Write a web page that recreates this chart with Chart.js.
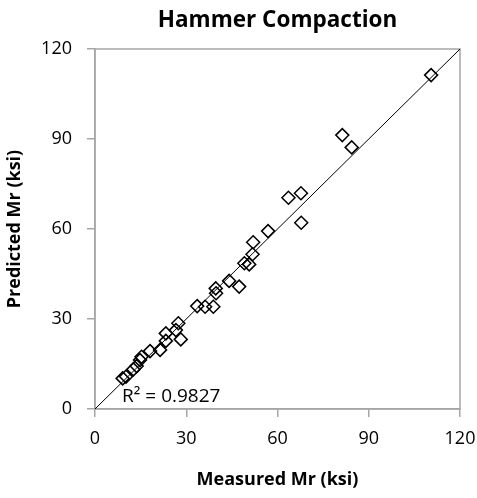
<!DOCTYPE html>
<html>
<head>
<meta charset="utf-8">
<script src="https://cdn.jsdelivr.net/npm/chart.js@4.4.1/dist/chart.umd.min.js"></script>
<style>
  html, body { margin: 0; padding: 0; background: #fff; }
  #wrap { width: 477px; height: 498px; }
</style>
</head>
<body>
<div id="wrap"><canvas id="chart" width="477" height="498"></canvas></div>
<script>
const measured  = [110.5, 81.3, 84.4, 63.6, 67.7, 67.8, 56.9, 52.0, 51.8, 49.1, 50.7, 44.1, 47.4, 39.7, 39.8, 36.2, 38.9,
                   33.6, 27.4, 26.6, 23.3, 28.2, 23.3, 21.4, 18.1, 15.3, 14.8, 13.7, 12.6, 9.1, 10.2];
const predicted = [111.3, 91.3, 87.2, 70.4, 71.9, 62.1, 59.3, 55.6, 51.6, 48.6, 48.2, 42.7, 40.8, 40.2, 38.6, 34.1, 34.1,
                   34.3, 28.6, 26.3, 25.2, 23.2, 22.7, 19.7, 19.3, 17.4, 16.3, 14.3, 13.2, 10.2, 10.8];
const trendX = [0, 120];
const trendY = [0, 120];
const ticks = [0, 30, 60, 90, 120];
const r2Label = 'R\u00B2 = 0.9827';

const FONT = 'Open Sans';
const GRAY = '#a6a6a6';

/* ── PLOT FRAME + TITLE + R² ───────────────────────────── */
const extras = {
  id: 'extras',
  beforeDatasetsDraw(chart) {
    const { ctx, chartArea: a } = chart;
    ctx.save();
    ctx.strokeStyle = GRAY;
    ctx.lineWidth = 1.5;
    ctx.strokeRect(a.left, a.top, a.right - a.left, a.bottom - a.top);
    ctx.restore();
  },
  afterDraw(chart) {
    const { ctx, chartArea: a, scales } = chart;
    ctx.save();
    ctx.fillStyle = '#000';
    ctx.textAlign = 'center';
    ctx.textBaseline = 'middle';
    ctx.font = `bold 22.5px "${FONT}"`;
    ctx.fillText('Hammer Compaction', (a.left + a.right) / 2, 21);
    ctx.textAlign = 'left';
    ctx.font = `19px "${FONT}"`;
    ctx.fillText(r2Label, scales.x.getPixelForValue(8.9), scales.y.getPixelForValue(4.3));
    ctx.restore();
  }
};

new Chart(document.getElementById('chart'), {
  type: 'scatter',
  data: {
    datasets: [
      {
        label: 'Data',
        data: measured.map((x, i) => ({ x, y: predicted[i] })),
        pointStyle: 'rectRot',
        pointRadius: 6.5,
        pointBorderWidth: 1.5,
        borderColor: '#000',
        backgroundColor: 'rgba(0,0,0,0)'
      },
      {
        type: 'line',
        label: 'Trend',
        data: trendX.map((x, i) => ({ x, y: trendY[i] })),
        borderColor: '#000',
        borderWidth: 1,
        pointRadius: 0,
        fill: false
      }
    ]
  },
  options: {
    responsive: false,
    animation: false,
    layout: { padding: { top: 49, right: 0, left: 0, bottom: 0 } },
    plugins: { legend: { display: false }, title: { display: false }, tooltip: { enabled: false } },
    scales: {
      x: {
        type: 'linear', min: 0, max: 120,
        afterBuildTicks: s => { s.ticks = ticks.map(v => ({ value: v })); },
        afterFit: s => { s.height = 89; s.paddingLeft = 0; s.paddingRight = 17; },
        grid: { drawOnChartArea: false, tickLength: 8, color: GRAY, lineWidth: 1.5 },
        border: { color: GRAY, width: 1.5 },
        ticks: { color: '#000', font: { family: FONT, size: 18 }, padding: 11 },
        title: { display: true, text: 'Measured Mr (ksi)', color: '#000', font: { family: FONT, size: 18, weight: 'bold' }, padding: { top: 4, bottom: 7 } }
      },
      y: {
        type: 'linear', min: 0, max: 120,
        afterBuildTicks: s => { s.ticks = ticks.map(v => ({ value: v })); },
        afterFit: s => { s.width = 95; s.paddingTop = 0; s.paddingBottom = 0; },
        grid: { drawOnChartArea: false, tickLength: 8, color: GRAY, lineWidth: 1.5 },
        border: { color: GRAY, width: 1.5 },
        ticks: { color: '#000', font: { family: FONT, size: 18 }, padding: 15 },
        title: { display: true, text: 'Predicted Mr (ksi)', color: '#000', font: { family: FONT, size: 18, weight: 'bold' }, padding: { top: 4, bottom: 4 } }
      }
    }
  },
  plugins: [extras]
});
</script>
</body>
</html>
